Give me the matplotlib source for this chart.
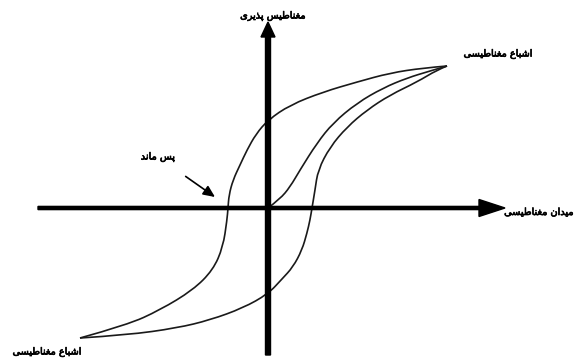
import matplotlib
matplotlib.use("Agg")
import matplotlib.pyplot as plt
import matplotlib.patheffects as pe
from matplotlib.path import Path
from matplotlib.patches import PathPatch

# hysteresis loop (H = field, M = magnetisation)
upper_H = [179, 155, 122, 89, 55, 22, 0, -12, -21, -28, -35, -39, -40, -41, -45, -55, -75, -108, -141, -188]
upper_M = [142, 140, 135, 126, 116, 103, 88, 74, 58, 43, 28, 13, 0, -12, -39, -62, -82, -102, -117, -130]

lower_H = [-188, -141, -91, -58, -25, 0, 14, 25, 34, 39, 42, 44, 47, 50, 62, 79, 99, 122, 149, 169, 179]
lower_M = [-130, -127, -120, -112, -100, -86, -71, -59, -42, -25, -12, 0, 18, 38, 61, 81, 98, 113, 126, 138, 142]

initial_H = [0, 12, 22, 32, 49, 65, 89, 115, 139, 162, 179]
initial_M = [0, 9, 21, 38, 65, 85, 105, 120, 130, 137, 142]

label_y = "مغناطیس پذیری"
label_x = "میدان مغناطیسی"
label_sat = "اشباع مغناطیسی"
label_rem = "پس ماند"

# tiny persian shaper: (isolated, final, initial, medial)
FORMS = {
    "ا": ("\uFE8D", "\uFE8E", None, None),
    "د": ("\uFEA9", "\uFEAA", None, None),
    "ذ": ("\uFEAB", "\uFEAC", None, None),
    "ر": ("\uFEAD", "\uFEAE", None, None),
    "ب": ("\uFE8F", "\uFE90", "\uFE91", "\uFE92"),
    "پ": ("\uFB56", "\uFB57", "\uFB58", "\uFB59"),
    "س": ("\uFEB1", "\uFEB2", "\uFEB3", "\uFEB4"),
    "ش": ("\uFEB5", "\uFEB6", "\uFEB7", "\uFEB8"),
    "ط": ("\uFEC1", "\uFEC2", "\uFEC3", "\uFEC4"),
    "ع": ("\uFEC9", "\uFECA", "\uFECB", "\uFECC"),
    "غ": ("\uFECD", "\uFECE", "\uFECF", "\uFED0"),
    "م": ("\uFEE1", "\uFEE2", "\uFEE3", "\uFEE4"),
    "ن": ("\uFEE5", "\uFEE6", "\uFEE7", "\uFEE8"),
    "ی": ("\uFBFC", "\uFBFD", "\uFBFE", "\uFBFF"),
}


def shape(txt):
    out = []
    for i, ch in enumerate(txt):
        if ch not in FORMS:
            out.append(ch)
            continue
        prev = txt[i - 1] if i > 0 else " "
        nxt = txt[i + 1] if i + 1 < len(txt) else " "
        j_prev = prev in FORMS and FORMS[prev][2] is not None
        j_next = FORMS[ch][2] is not None and nxt in FORMS
        iso, fin, ini, med = FORMS[ch]
        if j_prev and j_next:
            out.append(med)
        elif j_prev:
            out.append(fin)
        elif j_next:
            out.append(ini)
        else:
            out.append(iso)
    return "".join(out)[::-1]


def smooth_curve(ax, xs, ys, **kw):
    # quadratic bezier through the midpoints, read points act as control points
    pts = list(zip(xs, ys))
    verts = [pts[0]]
    codes = [Path.MOVETO]
    for i in range(1, len(pts) - 1):
        mid = ((pts[i][0] + pts[i + 1][0]) / 2, (pts[i][1] + pts[i + 1][1]) / 2)
        if i == len(pts) - 2:
            mid = pts[-1]
        verts += [pts[i], mid]
        codes += [Path.CURVE3, Path.CURVE3]
    ax.add_patch(PathPatch(Path(verts, codes), fill=False, **kw))


fig = plt.figure(figsize=(5.77, 3.61), dpi=100)
ax = fig.add_axes([0, 0, 1, 1])
ax.set_xlim(-268, 309)
ax.set_ylim(-153, 208)
ax.axis("off")

line_kw = dict(edgecolor="#1a1a1a", lw=1.2, zorder=2)
smooth_curve(ax, upper_H, upper_M, **line_kw)
smooth_curve(ax, lower_H, lower_M, **line_kw)
smooth_curve(ax, initial_H, initial_M, **line_kw)

# axes as thick arrows
ax.arrow(0, -147, 0, 333, width=5, head_width=14, head_length=15,
         length_includes_head=True, color="black", zorder=3)
ax.arrow(-230, 0, 467, 0, width=3.2, head_width=17, head_length=26,
         length_includes_head=True, color="black", zorder=3)

txt_kw = dict(ha="center", va="center", fontsize=7, family="DejaVu Sans",
              path_effects=[pe.withStroke(linewidth=0.5, foreground="black")])
ax.text(5, 192, shape(label_y), **txt_kw)
ax.text(271, -4, shape(label_x), **txt_kw)
ax.text(230, 154, shape(label_sat), **txt_kw)
ax.text(-221, -144, shape(label_sat), **txt_kw)

ax.annotate(shape(label_rem), xy=(-53, 11), xytext=(-110, 51), **txt_kw,
            arrowprops=dict(arrowstyle="-|>,head_length=1.0,head_width=0.45",
                            color="black", lw=1.2, shrinkA=14, shrinkB=0))

fig.savefig("out.png", dpi=100)
